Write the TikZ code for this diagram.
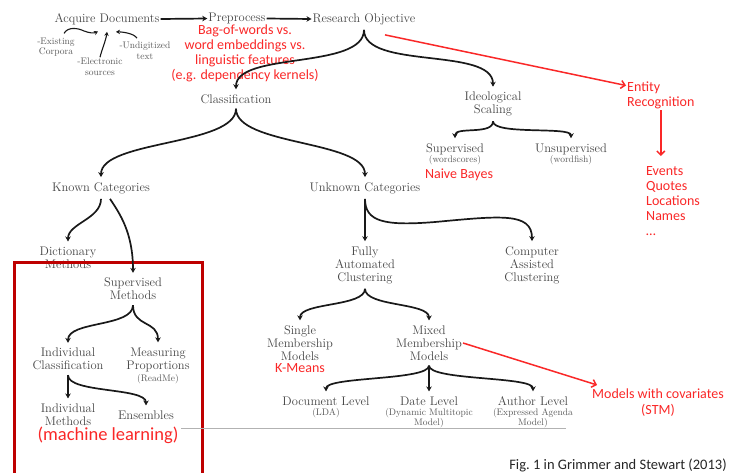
\documentclass[tikz,border=0pt]{standalone}
\usepackage{fontspec}
\newfontfamily\redf{Carlito}
\usetikzlibrary{arrows.meta,calc}
\definecolor{txt}{RGB}{70,70,70}
\definecolor{txtsub}{RGB}{90,90,90}
\definecolor{arrc}{RGB}{25,25,25}
\definecolor{redc}{RGB}{250,40,40}
\definecolor{boxc}{RGB}{190,0,0}
\tikzset{
  lbl/.style={text=txt, font=\fontsize{12.5}{13}\selectfont, align=center, inner xsep=1pt, inner ysep=5pt},
  sub/.style={text=txtsub, font=\fontsize{9.5}{10.5}\selectfont, align=center, inner sep=1pt},
  redtxt/.style={text=redc, font=\redf\fontsize{14}{15}\selectfont, inner sep=1pt},
  arr/.style={draw=arrc, line width=1.7pt, -{Stealth[length=5pt,width=5.5pt]}},
  sarr/.style={draw=arrc, line width=1.1pt, -{Stealth[length=4pt,width=4.5pt]}},
  redarr/.style={draw=redc, line width=1.5pt, -{Straight Barb[length=4pt,width=8pt]}},
}
\begin{document}
\begin{tikzpicture}[x=1pt,y=-1pt]
\useasboundingbox (0,0) rectangle (730,472);
\fill[white] (0,0) rectangle (730,472);

% nodes
\node[lbl] (ad) at (107,19) {Acquire Documents};
\node[lbl] (pp) at (237,18.5) {Preprocess};
\node[lbl] (ro) at (364,19) {Research Objective};
\node[sub] (ex) at (56,47) {-Existing\\Corpora};
\node[sub] (el) at (100,67) {-Electronic\\sources};
\node[sub] (ud) at (145,51) {-Undigitized\\text};
\node[redtxt, align=center] (bag) at (245,53.5) {Bag-of-words vs.\\word embeddings vs.\\linguistic features\\(e.g. dependency kernels)};
\node[lbl] (cls) at (236,99) {Classification};
\node[lbl] (ideo) at (493,104) {Ideological\\Scaling};
\node[redtxt, align=left, anchor=west] (ent) at (626,95.5) {Entity\\Recognition};
\node[redtxt, align=left, anchor=north west] (evt) at (645,165) {Events\\Quotes\\Locations\\Names\\\dots};
\node[lbl] (sup) at (455,149) {Supervised};
\node[sub] (supS) at (455,160) {(wordscores)};
\node[redtxt] (nb) at (459,175) {Naive Bayes};
\node[lbl] (uns) at (571,149) {Unsupervised};
\node[sub] (unsS) at (571,160) {(wordfish)};
\node[lbl] (kc) at (101,188) {Known Categories};
\node[lbl] (uc) at (365,188) {Unknown Categories};
\node[lbl] (dm) at (68,257.5) {Dictionary\\Methods};
\node[lbl] (sm) at (133,289) {Supervised\\Methods};
\node[lbl] (ic) at (68,359) {Individual\\Classification};
\node[lbl] (mp) at (158,359.5) {Measuring\\Proportions};
\node[sub] (mpS) at (158,379) {(ReadMe)};
\node[lbl] (im) at (68,414.5) {Individual\\Methods};
\node[lbl] (ens) at (146,415) {Ensembles};
\node[redtxt, font=\redf\fontsize{18.5}{20}\selectfont] (ml) at (108,435.5) {(machine learning)};
\node[lbl] (fac) at (365,265) {Fully\\Automated\\Clustering};
\node[lbl] (cac) at (532,265) {Computer\\Assisted\\Clustering};
\node[lbl] (smm) at (300,343) {Single\\Membership\\Models};
\node[redtxt] (km) at (300,368) {K-Means};
\node[lbl] (mmm) at (429,343) {Mixed\\Membership\\Models};
\node[lbl] (dl) at (326,401) {Document Level};
\node[sub] (dlS) at (326,413) {(LDA)};
\node[lbl] (dtl) at (429,401) {Date Level};
\node[sub] (dtlS) at (429,418) {(Dynamic Multitopic\\Model)};
\node[lbl] (al) at (533,401) {Author Level};
\node[sub] (alS) at (533,418) {(Expressed Agenda\\Model)};
\node[redtxt, align=center, font=\redf\fontsize{14}{16}\selectfont] (mwc) at (658,403) {Models with covariates\\(STM)};
\node[font=\redf\fontsize{14.5}{16}\selectfont, text=black!85, inner sep=0pt] (fig) at (618,465) {Fig.~1 in Grimmer and Stewart (2013)};

% red box and rule
\draw[boxc, line width=3pt] (14,478) -- (14,262) -- (202,262) -- (202,478);
\draw[black!30, line width=0.8pt] (181,428) -- (566,428);

% top row
\draw[arr] (ad.east) -- (pp.west);
\draw[arr] (pp.east) -- (ro.west);
\draw[sarr] ([xshift=8pt,yshift=3pt]ex.north) .. controls +(4,-7) and +(-6,-3) .. (84,31) .. controls +(5,2) and +(-4,2) .. ([xshift=-9pt,yshift=-1.5pt]ad.south);
\draw[sarr] (el.north) .. controls +(2,-8) and +(-1,8) .. ([yshift=-2pt]ad.south);
\draw[sarr] ([xshift=-8pt,yshift=3pt]ud.north) .. controls +(-3,-5) and +(6,0) .. ([xshift=9pt,yshift=-2pt]ad.south);

% research objective brace
\draw[arr] (ro.south) .. controls +(0,40) and +(0,-38) .. (cls.north);
\draw[arr] (ro.south) .. controls +(0,40) and +(0,-40) .. (ideo.north);
\draw[redarr] ([xshift=21pt,yshift=-5pt]ro.south) -- ([yshift=10pt]ent.west);
\draw[redarr] (ent.south) -- ($(ent.south |- evt.north)+(0,-9)$);

% ideological scaling
\draw[arr] (ideo.south) .. controls +(0,14) and +(0,-12) .. (sup.north);
\draw[arr] (ideo.south) .. controls +(0,14) and +(0,-12) .. (uns.north);

% classification
\draw[arr] (cls.south) .. controls +(0,37) and +(0,-37) .. (kc.north);
\draw[arr] (cls.south) .. controls +(0,37) and +(0,-37) .. (uc.north);

% known categories
\draw[arr] (kc.south) .. controls +(0,20) and +(0,-18) .. (dm.north);
\draw[arr] ([xshift=9pt]kc.south) .. controls +(10,15) and +(0,-40) .. (sm.north);
\draw[arr] (sm.south) .. controls +(0,22) and +(0,-22) .. (ic.north);
\draw[arr] (sm.south) .. controls +(0,22) and +(0,-22) .. (mp.north);
\draw[arr] (ic.south) -- (im.north);
\draw[arr] (ic.south) .. controls +(0,18) and +(0,-18) .. (ens.north);

% unknown categories
\draw[arr] (uc.south) -- (fac.north);
\draw[arr] (uc.south) .. controls (365,222) and (385,226) .. (435,222) .. controls (500,216) and (532,212) .. (cac.north);
\draw[arr] (fac.south) .. controls +(0,18) and +(0,-18) .. (smm.north);
\draw[arr] (fac.south) .. controls +(0,18) and +(0,-18) .. (mmm.north);
\draw[arr] (mmm.south) .. controls +(0,15) and +(0,-15) .. (dl.north);
\draw[arr] (mmm.south) -- (dtl.north);
\draw[arr] (mmm.south) .. controls +(0,15) and +(0,-15) .. (al.north);
\draw[redarr] (mmm.east) -- ([xshift=6pt,yshift=3pt]mwc.north west);
\end{tikzpicture}
\end{document}
